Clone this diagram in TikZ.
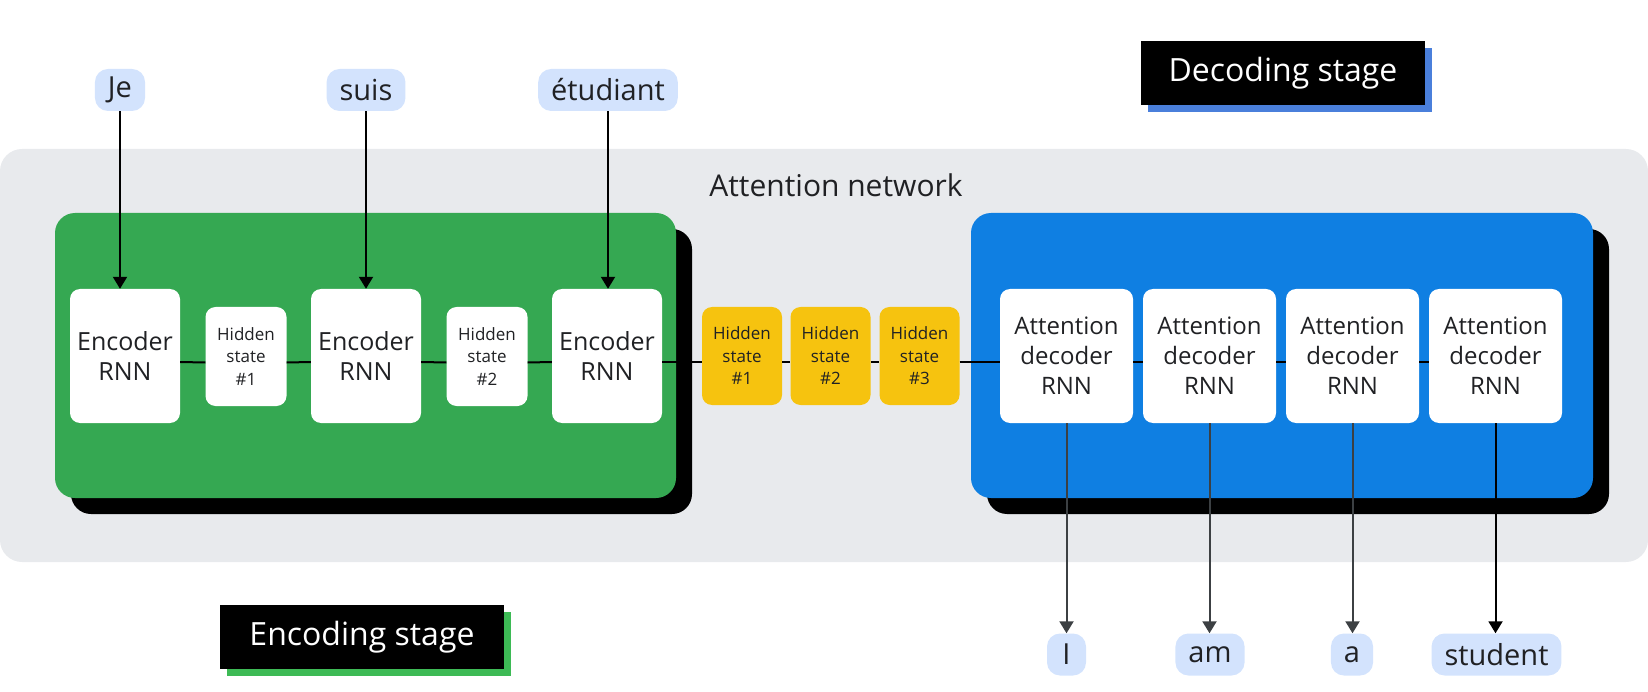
\documentclass[tikz,border=0pt]{standalone}
\usepackage{fontspec}
\setmainfont{Open Sans}
\usetikzlibrary{arrows.meta,shadows}
\definecolor{bggray}{HTML}{E8EAED}
\definecolor{encgreen}{HTML}{35A852}
\definecolor{decblue}{HTML}{0F7FE2}
\definecolor{hsyellow}{HTML}{F6C30F}
\definecolor{pillblue}{HTML}{D3E3FD}
\definecolor{txt}{HTML}{202124}
\definecolor{darkgray}{HTML}{3C4043}
\definecolor{shblue}{HTML}{4A7FDB}
\definecolor{shgreen}{HTML}{3DBA55}
\begin{document}
\begin{tikzpicture}[x=1pt,y=-1pt,
  panel/.style={rounded corners=20pt, minimum height=285pt, inner sep=0pt,
    general shadow={fill=black, shadow xshift=16pt, shadow yshift=-16pt}},
  encbox/.style={fill=white, rounded corners=10pt, minimum width=110pt, minimum height=134pt,
    inner sep=0pt, align=center, text=txt, font=\fontsize{25}{30}\selectfont},
  hsbox/.style={rounded corners=10pt, minimum width=81pt, minimum height=99pt,
    inner sep=0pt, align=center, text=txt, font=\fontsize{17}{22.5}\selectfont},
  decbox/.style={fill=white, rounded corners=10pt, minimum width=133pt, minimum height=134pt,
    inner sep=0pt, align=center, text=txt, font=\fontsize{24}{30}\selectfont},
  pill/.style={fill=pillblue, rounded corners=13pt, minimum height=42pt, minimum width=39pt,
    inner xsep=13pt, inner ysep=0pt, text=txt, font=\fontsize{29}{34}\selectfont},
  stage/.style={fill=black, text=white, minimum width=284pt, minimum height=64pt, inner sep=0pt,
    font=\fontsize{32}{38}\selectfont},
  conn/.style={line width=2pt, draw=black},
  arr/.style={line width=2pt, -{Triangle[width=14pt,length=12pt]}},
]
\useasboundingbox (0,0) rectangle (1648,692);
% background
\fill[bggray, rounded corners=22pt] (0,149) rectangle (1648,562);
\node[anchor=base, text=txt, font=\fontsize{30}{36}\selectfont] (attn) at (836,197) {Attention network};

% panels
\node[panel, fill=encgreen, minimum width=621pt] (encp) at (365.5,355.5) {};
\node[panel, fill=decblue, minimum width=622pt] (decp) at (1282,355.5) {};

% encoder row
\node[encbox] (e1) at (125,356) {Encoder\\RNN};
\node[hsbox, fill=white] (h1) at (246,356.5) {Hidden\\state\\\#1};
\node[encbox] (e2) at (366,356) {Encoder\\RNN};
\node[hsbox, fill=white] (h2) at (487,356.5) {Hidden\\state\\\#2};
\node[encbox] (e3) at (607,356) {Encoder\\RNN};

% yellow hidden states
\node[hsbox, fill=hsyellow, minimum width=80pt, minimum height=98pt] (y1) at (742,356) {Hidden\\state\\\#1};
\node[hsbox, fill=hsyellow, minimum width=80pt, minimum height=98pt] (y2) at (830.5,356) {Hidden\\state\\\#2};
\node[hsbox, fill=hsyellow, minimum width=80pt, minimum height=98pt] (y3) at (919.5,356) {Hidden\\state\\\#3};

% decoder row
\node[decbox] (d1) at (1066.5,356) {Attention\\decoder\\RNN};
\node[decbox] (d2) at (1209.5,356) {Attention\\decoder\\RNN};
\node[decbox] (d3) at (1352.5,356) {Attention\\decoder\\RNN};
\node[decbox] (d4) at (1495.5,356) {Attention\\decoder\\RNN};

% horizontal chain
\foreach \a/\b in {e1/h1,h1/e2,e2/h2,h2/e3,e3/y1,y1/y2,y2/y3,y3/d1,d1/d2,d2/d3,d3/d4}
  \draw[conn] ([yshift=-6pt]\a.east) -- ([yshift=-6pt]\b.west);

% input words
\node[pill] (je) at (120,90) {Je};
\node[pill] (suis) at (366,90) {suis};
\node[pill] (etu) at (608,90) {étudiant};
\draw[arr] (je.south) -- (je.south |- e1.north);
\draw[arr] (suis.south) -- (suis.south |- e2.north);
\draw[arr] (etu.south) -- (etu.south |- e3.north);

% output words
\node[pill] (o1) at (1066.5,654.5) {I};
\node[pill] (o2) at (1210,654.5) {am};
\node[pill] (o3) at (1352,654.5) {a};
\node[pill] (o4) at (1496.5,654.5) {student};
\draw[arr, darkgray] (d1.south) -- (d1.south |- o1.north);
\draw[arr, darkgray] (d2.south) -- (d2.south |- o2.north);
\draw[arr, darkgray] (d3.south) -- (d3.south |- o3.north);
\draw[arr, black] (d4.south) -- (d4.south |- o4.north);

% stage labels
\node[stage, general shadow={fill=shblue, shadow xshift=7pt, shadow yshift=-7pt}] (dec) at (1283,73) {Decoding stage};
\node[stage, general shadow={fill=shgreen, shadow xshift=7pt, shadow yshift=-7pt}] (enc) at (362,637) {Encoding stage};
\end{tikzpicture}
\end{document}
